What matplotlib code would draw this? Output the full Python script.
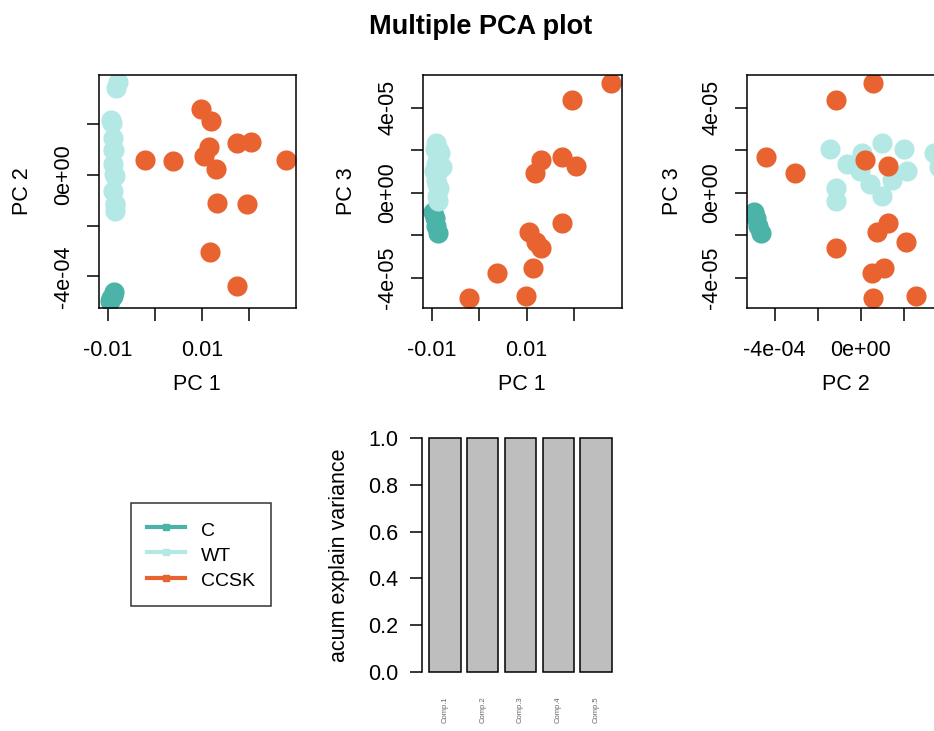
import matplotlib
matplotlib.use("Agg")
import matplotlib.pyplot as plt
from matplotlib.lines import Line2D

plt.rcParams['font.family'] = ['Liberation Sans', 'DejaVu Sans']

W, H = 934, 731

groups = ["C", "WT", "CCSK"]
colors = {"C": "#4BB3A7", "WT": "#B3E8E4", "CCSK": "#E8632F"}

# PCA scores per group
pc1 = {
    "C": [-0.0096, -0.0093, -0.0090, -0.0087],
    "WT": [-0.0086, -0.0085, -0.0086, -0.0090, -0.0088, -0.0086, -0.0089,
           -0.0090, -0.0088, -0.0090, -0.0092, -0.0094, -0.0082, -0.0078],
    "CCSK": [0.0098, 0.0119, 0.0114, 0.0105, 0.0130, 0.0174, 0.0205,
             0.0278, -0.0022, 0.0038, 0.0131, 0.0196, 0.0117, 0.0175],
}
pc2 = {
    "C": [-4.95e-4, -4.85e-4, -4.75e-4, -4.62e-4],
    "WT": [-1.41e-4, -1.13e-4, -1.13e-4, -0.63e-4, 0.05e-4, -0.03e-4, 0.44e-4,
           0.99e-4, 0.99e-4, 1.46e-4, 2.04e-4, 2.16e-4, 3.40e-4, 3.64e-4],
    "CCSK": [2.60e-4, 2.10e-4, 1.10e-4, 0.76e-4, 0.23e-4, 1.27e-4, 1.28e-4,
             0.57e-4, 0.59e-4, 0.53e-4, -1.12e-4, -1.13e-4, -3.05e-4, -4.38e-4],
}
pc3 = {
    "C": [-0.9e-5, -1.2e-5, -1.55e-5, -1.9e-5],
    "WT": [2.06e-5, 0.23e-5, -0.39e-5, 1.33e-5, 1.88e-5, 1.0e-5, 0.39e-5,
           2.34e-5, -0.16e-5, 0.62e-5, 2.06e-5, 1.01e-5, 1.88e-5, 1.2e-5],
    "CCSK": [-4.86e-5, -2.29e-5, -3.52e-5, -1.82e-5, 1.52e-5, -1.42e-5, 1.28e-5,
             5.17e-5, -4.95e-5, -3.75e-5, -2.61e-5, 4.34e-5, 0.92e-5, 1.68e-5],
}

comp_names = ["Comp.1", "Comp.2", "Comp.3", "Comp.4", "Comp.5"]
cum_var = [1.0, 1.0, 1.0, 1.0, 1.0]

FS = 15.5
LW = 1.1

fig = plt.figure(figsize=(W / 100, H / 100), dpi=100)


def px_axes(l, t, r, b):
    return fig.add_axes([l / W, 1 - b / H, (r - l) / W, (b - t) / H])


def style(ax):
    for s in ax.spines.values():
        s.set_linewidth(LW)
        s.set_color("black")
    ax.tick_params(length=9, width=LW, labelsize=FS, direction="out")
    ax.tick_params(axis="x", pad=14)
    ax.tick_params(axis="y", pad=9)


def scatter_panel(ax, xs, ys):
    for g in groups:
        ax.plot(xs[g], ys[g], linestyle="none", marker="o", markersize=14.5,
                markeredgewidth=0, color=colors[g])


# Panel 1: PC1 vs PC2
ax1 = px_axes(99, 75, 296, 308)
scatter_panel(ax1, pc1, pc2)
ax1.set_xlim(-0.0119, 0.0300)
ax1.set_ylim(-5.24e-4, 3.93e-4)
ax1.set_xticks([-0.01, 0.0, 0.01, 0.02], ["-0.01", "", "0.01", ""])
ax1.set_yticks([-4e-4, -2e-4, 0, 2e-4], ["-4e-04", "", "0e+00", ""])

# Panel 2: PC1 vs PC3
ax2 = px_axes(423, 75, 622, 308)
scatter_panel(ax2, pc1, pc3)
ax2.set_xlim(-0.0118, 0.0301)
ax2.set_ylim(-5.41e-5, 5.53e-5)
ax2.set_xticks([-0.01, 0.0, 0.01, 0.02], ["-0.01", "", "0.01", ""])
ax2.set_yticks([-4e-5, -2e-5, 0, 2e-5, 4e-5], ["-4e-05", "", "0e+00", "", "4e-05"])

# Panel 3: PC2 vs PC3
ax3 = px_axes(747, 75, 945, 308)
scatter_panel(ax3, pc2, pc3)
ax3.set_xlim(-5.28e-4, 3.93e-4)
ax3.set_ylim(-5.41e-5, 5.53e-5)
ax3.set_xticks([-4e-4, -2e-4, 0, 2e-4], ["-4e-04", "", "0e+00", ""])
ax3.set_yticks([-4e-5, -2e-5, 0, 2e-5, 4e-5], ["-4e-05", "", "0e+00", "", "4e-05"])

for ax in (ax1, ax2, ax3):
    style(ax)
    for lab in ax.get_yticklabels():
        lab.set_rotation(90)
        lab.set_va("center")

fig.text(197 / W, 1 - 385 / H, "PC 1", ha="center", va="center", fontsize=FS)
fig.text(522 / W, 1 - 385 / H, "PC 1", ha="center", va="center", fontsize=FS)
fig.text(846 / W, 1 - 385 / H, "PC 2", ha="center", va="center", fontsize=FS)
fig.text(23 / W, 1 - 191 / H, "PC 2", ha="center", va="center", fontsize=FS, rotation=90)
fig.text(347 / W, 1 - 191 / H, "PC 3", ha="center", va="center", fontsize=FS, rotation=90)
fig.text(672 / W, 1 - 191 / H, "PC 3", ha="center", va="center", fontsize=FS, rotation=90)

# Bar panel
ax4 = px_axes(422, 428.6, 619, 681.4)
xpos = [0.7 + 1.2 * i for i in range(len(comp_names))]
ax4.bar(xpos, cum_var, width=1.0, color="#BEBEBE", edgecolor="black", linewidth=LW)
ax4.set_xlim(-0.032, 6.232)
ax4.set_ylim(-0.04, 1.04)
for s in ("top", "right", "bottom"):
    ax4.spines[s].set_visible(False)
ax4.spines["left"].set_bounds(0, 1)
ax4.spines["left"].set_linewidth(LW)
ax4.set_yticks([0, 0.2, 0.4, 0.6, 0.8, 1.0], ["0.0", "0.2", "0.4", "0.6", "0.8", "1.0"])
ax4.tick_params(axis="y", length=9, width=LW, labelsize=FS, pad=8)
ax4.set_xticks(xpos, comp_names, rotation=90, fontsize=5.5, color="#666666")
ax4.tick_params(axis="x", length=0, pad=11)
fig.text(339 / W, 1 - 555 / H, "acum explain variance", ha="center", va="center",
         fontsize=FS, rotation=90)

# Legend
handles = [Line2D([0], [0], color=colors[g], lw=3, marker="s", markersize=5) for g in groups]
leg = fig.legend(handles, groups, loc="upper left",
                 bbox_to_anchor=(131 / W, 1 - 503 / H), fontsize=14,
                 frameon=True, fancybox=False, edgecolor="black",
                 handlelength=2.0, handletextpad=0.8, labelspacing=0.2,
                 handleheight=1.31, borderpad=0.8, borderaxespad=0)
leg.get_frame().set_linewidth(LW)

fig.text(481 / W, 1 - 27 / H, "Multiple PCA plot", ha="center", va="center",
         fontsize=19.5, fontweight="bold")

fig.savefig("out.png", dpi=100)
